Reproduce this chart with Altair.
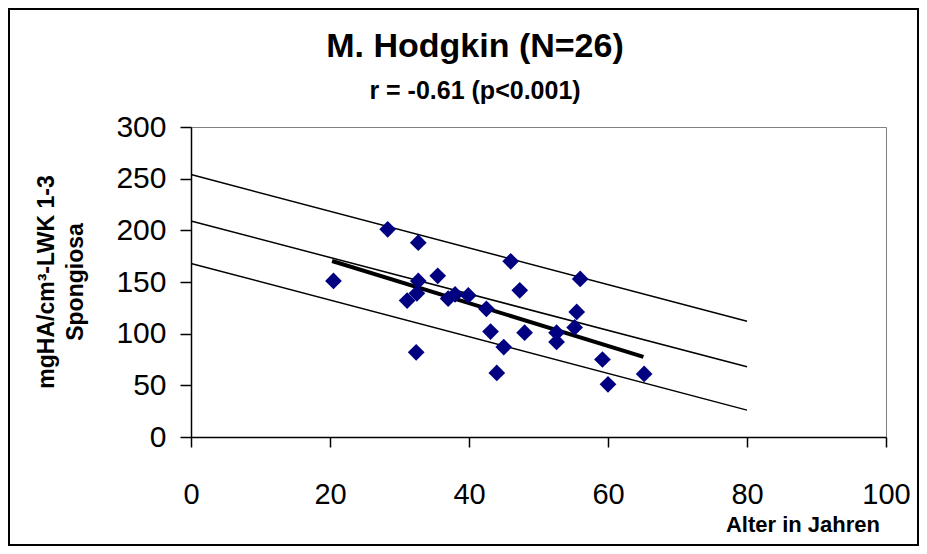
import altair as alt
import pandas as pd

# ---- data ----
ages = [20.5, 28.3, 32.7, 32.7, 35.5, 32.5, 31.1, 32.4, 37.0, 38.0, 39.9,
        46.0, 56.0, 47.3, 42.5, 55.5, 55.2, 43.1, 48.0, 52.6, 52.6, 45.0,
        59.2, 44.0, 65.2, 60.0]
values = [151, 201, 188, 151, 156, 139, 132, 82, 134, 138, 137,
          170, 153, 142, 124, 121, 106, 102, 101, 101, 92, 87,
          75, 62, 61, 51]

ref_x = [0, 80]
ref_upper = [254, 112]
ref_mid = [209, 68]
ref_lower = [168, 26]

reg_x = [20.3, 65.1]
reg_y = [170.3, 77.6]

title_text = "M. Hodgkin (N=26)"
subtitle_text = "r = -0.61 (p<0.001)"
x_title = "Alter in Jahren"
y_title_1 = "mgHA/cm³-LWK 1-3"
y_title_2 = "Spongiosa"

x_ticks = [0, 20, 40, 60, 80, 100]
y_ticks = [0, 50, 100, 150, 200, 250, 300]

FONT = "Liberation Sans"

pts = pd.DataFrame({"age": ages, "val": values})
lines = pd.DataFrame({
    "age": ref_x * 3,
    "val": ref_upper + ref_mid + ref_lower,
    "grp": ["upper"] * 2 + ["mid"] * 2 + ["lower"] * 2,
})
reg = pd.DataFrame({"age": reg_x, "val": reg_y})

xs = alt.Scale(domain=[0, 100], nice=False)
ys = alt.Scale(domain=[0, 300], nice=False)

x_axis = alt.Axis(values=x_ticks, title=None, grid=False, labelFontSize=29,
                  labelPadding=33, tickSize=10, tickColor="black", tickWidth=1.5,
                  domainColor="black", domainWidth=1.5, labelColor="black",
                  labelFont=FONT, labelFlush=False)
y_axis = alt.Axis(values=y_ticks, title=None, grid=False, labelFontSize=30,
                  labelPadding=14, tickSize=11, tickColor="black", tickWidth=1.5,
                  domainColor="black", domainWidth=1.5, labelColor="black",
                  labelFont=FONT, labelFlush=False)

band = alt.Chart(lines).mark_line(color="black", strokeWidth=1.5).encode(
    x=alt.X("age:Q", scale=xs, axis=x_axis),
    y=alt.Y("val:Q", scale=ys, axis=y_axis),
    detail="grp:N",
)

regline = alt.Chart(reg).mark_line(color="black", strokeWidth=4).encode(
    x=alt.X("age:Q", scale=xs),
    y=alt.Y("val:Q", scale=ys),
)

points = alt.Chart(pts).mark_point(shape="diamond", filled=True, color="#000080",
                                   size=280, opacity=1).encode(
    x=alt.X("age:Q", scale=xs),
    y=alt.Y("val:Q", scale=ys),
)

one = pd.DataFrame({"a": [0]})


def label(text, x, y, size, bold=True, align="center", angle=0):
    return alt.Chart(pd.DataFrame({"t": [text]})).mark_text(
        font=FONT, fontSize=size, fontWeight="bold" if bold else "normal",
        align=align, baseline="middle", angle=angle, color="black",
    ).encode(x=alt.value(x), y=alt.value(y), text="t:N")


frame = alt.Chart(one).mark_rect(fillOpacity=0, stroke="black", strokeWidth=2).encode(
    x=alt.value(-182), x2=alt.value(727), y=alt.value(-118), y2=alt.value(418)
)

chart = alt.layer(
    frame,
    band,
    regline,
    points,
    label(title_text, 284, -80, 34),
    label(subtitle_text, 284, -36, 25),
    label(x_title, 689, 398, 22, align="right"),
    label(y_title_1, -144, 155, 23, angle=270),
    label(y_title_2, -115, 155, 23, angle=270),
).properties(
    width=695,
    height=310,
    autosize=alt.AutoSizeParams(type="none"),
    padding={"left": 183, "top": 119, "right": 33, "bottom": 117},
    background="white",
).configure_view(
    stroke="#808080", strokeWidth=1
)

chart.save("out.html", embed_options={"renderer": "svg", "actions": False})
